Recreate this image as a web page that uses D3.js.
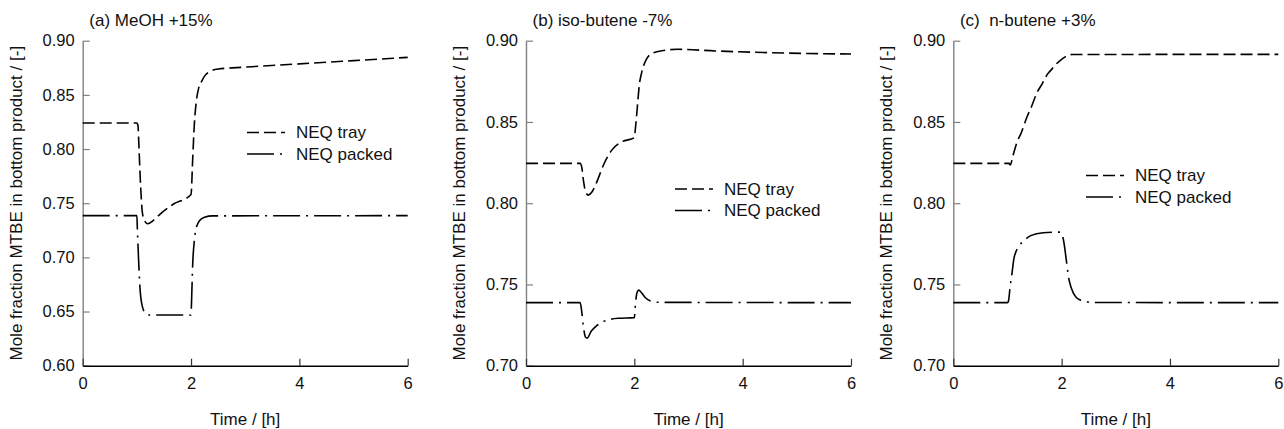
<!DOCTYPE html>
<html>
<head>
<meta charset="utf-8">
<script src="https://cdn.jsdelivr.net/npm/d3@7"></script>
<style>
    body { margin: 0; background: #fff; }
    svg { font-family: "Liberation Sans", Arial, Helvetica, sans-serif; }
</style>
</head>
<body>
<svg width="1284" height="429"></svg>
<script>
// Time ticks shared by all three panels
var timeTicks = [0, 2, 4, 6];

// (a) MeOH +15%
var ticksA = [0.60, 0.65, 0.70, 0.75, 0.80, 0.85, 0.90];
var trayA = [[0, 0.824], [1.0, 0.824], [1.02, 0.822], [1.04, 0.80], [1.07, 0.765], [1.1, 0.742], [1.14, 0.734],
    [1.2, 0.731], [1.3, 0.734], [1.43, 0.740], [1.67, 0.749], [2.0, 0.758], [2.03, 0.790], [2.06, 0.822],
    [2.1, 0.845], [2.14, 0.856], [2.2, 0.863], [2.26, 0.868], [2.35, 0.8715], [2.5, 0.8738], [3, 0.8756],
    [4, 0.8786], [5, 0.8816], [6, 0.8846]];
var packedA = [[0, 0.7385], [1.0, 0.7385], [1.01, 0.725], [1.03, 0.70], [1.06, 0.670], [1.1, 0.655],
    [1.15, 0.649], [1.22, 0.6468], [2.0, 0.6468], [2.01, 0.66], [2.03, 0.693], [2.06, 0.715], [2.1, 0.728],
    [2.16, 0.734], [2.25, 0.737], [2.4, 0.7383], [6, 0.7385]];

// (b) iso-butene -7%
var ticksB = [0.70, 0.75, 0.80, 0.85, 0.90];
var trayB = [[0, 0.8245], [1.0, 0.8245], [1.03, 0.822], [1.06, 0.814], [1.1, 0.807], [1.15, 0.805],
    [1.22, 0.807], [1.3, 0.8125], [1.43, 0.8235], [1.58, 0.8325], [1.77, 0.8378], [2.0, 0.8403],
    [2.02, 0.846], [2.05, 0.857], [2.095, 0.8735], [2.14, 0.881], [2.23, 0.889], [2.35, 0.8925],
    [2.54, 0.894], [2.8, 0.8947], [3.5, 0.8937], [4.5, 0.8926], [6, 0.8918]];
var packedB = [[0, 0.7388], [1.0, 0.7388], [1.03, 0.733], [1.06, 0.724], [1.1, 0.7175], [1.13, 0.717],
    [1.2, 0.721], [1.3, 0.7245], [1.45, 0.7275], [1.7, 0.7292], [2.0, 0.7296], [2.02, 0.738], [2.05, 0.745],
    [2.08, 0.7465], [2.13, 0.745], [2.2, 0.742], [2.3, 0.7398], [2.45, 0.739], [6, 0.7388]];

// (c) n-butene +3%
var ticksC = [0.70, 0.75, 0.80, 0.85, 0.90];
var trayC = [[0, 0.8245], [1.03, 0.8245], [1.05, 0.8235], [1.1, 0.829], [1.17, 0.837], [1.25, 0.843],
    [1.36, 0.853], [1.45, 0.860], [1.54, 0.8676], [1.65, 0.874], [1.73, 0.879], [1.82, 0.8825],
    [1.91, 0.886], [2.0, 0.8885], [2.09, 0.8906], [2.2, 0.8915], [6, 0.8916]];
var packedC = [[0, 0.7388], [1.0, 0.7388], [1.02, 0.740], [1.05, 0.749], [1.08, 0.756], [1.12, 0.766],
    [1.2, 0.773], [1.29, 0.7765], [1.44, 0.7802], [1.66, 0.7818], [1.97, 0.7822], [2.03, 0.778],
    [2.09, 0.764], [2.12, 0.756], [2.18, 0.7476], [2.27, 0.742], [2.4, 0.7398], [2.6, 0.7389], [6, 0.7388]];

var seriesNames = ['NEQ tray', 'NEQ packed'];
var dashes = ['12,5', '27,6,2,6'];

var svg = d3.select('svg');

// Shared layout parameters
var plotTop = 40.7;
var plotBottom = 365.7;
var plotWidth = 325;

var panels = [
    {title: '(a) MeOH +15%', left: 82.7, yTicks: ticksA, tray: trayA, packed: packedA,
        legend: {x: 247, y: 132.5}},
    {title: '(b) iso-butene -7%', left: 526, yTicks: ticksB, tray: trayB, packed: packedB,
        legend: {x: 675, y: 189}},
    {title: '(c)  n-butene +3%', left: 953.3, yTicks: ticksC, tray: trayC, packed: packedC,
        legend: {x: 1086, y: 175.5}}
];

panels.forEach(drawPanel);

function drawPanel(p) {
    var x = d3.scaleLinear()
        .domain([0, 6])
        .range([p.left, p.left + plotWidth]);
    var y = d3.scaleLinear()
        .domain([d3.min(p.yTicks), d3.max(p.yTicks)])
        .range([plotBottom, plotTop]);

    // y axis (grey, ticks pointing inward)
    var yAxis = svg.append('g')
        .attr('transform', 'translate(' + p.left + ',0)')
        .call(d3.axisLeft(y)
            .tickValues(p.yTicks)
            .tickFormat(d3.format('.2f'))
            .tickSizeInner(-7)
            .tickSizeOuter(0)
            .tickPadding(8));
    yAxis.select('.domain').attr('stroke', '#808080').attr('stroke-width', 1.4);
    yAxis.selectAll('.tick line').attr('stroke', '#808080').attr('stroke-width', 1.2);
    yAxis.selectAll('.tick text')
        .attr('font-size', '16.5px')
        .attr('font-family', null)
        .attr('fill', '#111');

    // x axis (black, ticks pointing up)
    var xAxis = svg.append('g')
        .attr('transform', 'translate(0,' + plotBottom + ')')
        .call(d3.axisBottom(x)
            .tickValues(timeTicks)
            .tickFormat(d3.format('d'))
            .tickSizeInner(-7)
            .tickSizeOuter(0)
            .tickPadding(12));
    xAxis.select('.domain').attr('stroke', '#000').attr('stroke-width', 1.4);
    xAxis.selectAll('.tick line').attr('stroke', '#333').attr('stroke-width', 1.2);
    xAxis.selectAll('.tick text')
        .attr('font-size', '16.5px')
        .attr('font-family', null)
        .attr('fill', '#111');

    // Axis titles
    svg.append('text')
        .attr('transform', 'translate(' + (p.left - 61) + ',' + ((plotTop + plotBottom) / 2) + ') rotate(-90)')
        .attr('text-anchor', 'middle')
        .attr('font-size', '17px')
        .attr('fill', '#111')
        .text('Mole fraction MTBE in bottom product / [-]');

    svg.append('text')
        .attr('x', p.left + plotWidth / 2)
        .attr('y', 425)
        .attr('text-anchor', 'middle')
        .attr('font-size', '17px')
        .attr('fill', '#111')
        .text('Time / [h]');

    // Panel title
    svg.append('text')
        .attr('x', p.left + 6.6)
        .attr('y', 26)
        .attr('font-size', '17px')
        .attr('fill', '#111')
        .style('white-space', 'pre')
        .text(p.title);

    // Curves
    var line = d3.line()
        .x(function(d) { return x(d[0]); })
        .y(function(d) { return y(d[1]); })
        .curve(d3.curveMonotoneX);

    [p.tray, p.packed].forEach(function(series, i) {
        svg.append('path')
            .datum(series)
            .attr('d', line)
            .attr('fill', 'none')
            .attr('stroke', '#000')
            .attr('stroke-width', 1.6)
            .attr('stroke-dasharray', dashes[i]);
    });

    // Legend
    seriesNames.forEach(function(name, i) {
        var ly = p.legend.y + i * 21.5;
        svg.append('line')
            .attr('x1', p.legend.x)
            .attr('x2', p.legend.x + 38)
            .attr('y1', ly)
            .attr('y2', ly)
            .attr('stroke', '#000')
            .attr('stroke-width', 1.6)
            .attr('stroke-dasharray', dashes[i]);
        svg.append('text')
            .attr('x', p.legend.x + 49)
            .attr('y', ly)
            .attr('dy', '0.35em')
            .attr('font-size', '17px')
            .attr('fill', '#111')
            .text(name);
    });
}
</script>
</body>
</html>
